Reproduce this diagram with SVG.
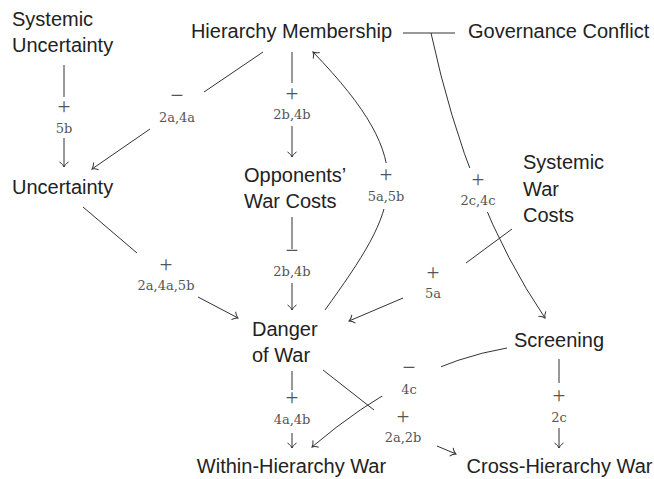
<svg xmlns="http://www.w3.org/2000/svg" width="654" height="479" viewBox="0 0 654 479">
<style>
.n{font-family:"Liberation Sans",Arial,sans-serif;font-size:20px;fill:#222}
.l{font-family:"DejaVu Serif","Liberation Serif",serif;font-size:13px;fill:#555;text-anchor:middle}
.s{font-family:"Liberation Serif","DejaVu Serif",serif;font-size:23px;fill:#555;text-anchor:middle}
.e{fill:none;stroke:#333;stroke-width:1}
.a{marker-end:url(#arr)}
.bg{fill:#fff;stroke:none}
</style>
<defs>
<marker id="arr" markerUnits="userSpaceOnUse" viewBox="-10 -6 12 12" markerWidth="12" markerHeight="12" refX="0" refY="0" orient="auto">
<path d="M-5,-4.5 C-3.5,-2 -1.2,-0.5 0,0 C-1.2,0.5 -3.5,2 -5,4.5" fill="none" stroke="#333" stroke-width="1"/>
</marker>
</defs>
<g id="connectors">
<path class="e" d="M64,65 V97"/><path class="e a" d="M64,138 V167"/>
<path class="e" d="M263,52 L204,92"/><path class="e a" d="M150,129 L92,169"/>
<path class="e" d="M292,52 V83"/><path class="e a" d="M292,126 V157"/>
<path class="e" d="M292,217 V249"/><path class="e a" d="M292,283 V310"/>
<path class="e" d="M83,207 L137,253"/><path class="e a" d="M198,297 L238,318"/>
<path class="e" d="M512,229 L466,263"/><path class="e a" d="M403,298 L349,321"/>
<path class="e" d="M292,371 V390"/><path class="e a" d="M292,433 V448"/>
<path class="e" d="M323,370 L374,410"/><path class="e a" d="M437,446 L456,454"/>
<path class="e" d="M559,359 V383"/><path class="e a" d="M559,428 V448"/>
<path class="e" d="M403,33 H455"/>
<path class="e a" d="M431,33 Q468,204.5 545,318"/>
<path class="e a" d="M325,310 C399,207 423,166 313,52"/>
<path class="e a" d="M507,348 Q408.5,364.5 312,447"/>
<rect class="bg" x="462" y="168" width="34" height="44"/>
<rect class="bg" x="370" y="163" width="32" height="46"/>
<rect class="bg" x="381" y="358" width="60" height="38"/>
</g>
<g id="labels">
<text class="s" x="64" y="114">+</text><text class="l" x="64" y="133">5b</text>
<text class="s" x="177" y="103">−</text><text class="l" x="177" y="122">2a,4a</text>
<text class="s" x="292" y="101">+</text><text class="l" x="292" y="119">2b,4b</text>
<text class="s" x="292" y="258">−</text><text class="l" x="292" y="276">2b,4b</text>
<text class="s" x="166" y="272">+</text><text class="l" x="166" y="290">2a,4a,5b</text>
<text class="s" x="386" y="182">+</text><text class="l" x="386" y="201">5a,5b</text>
<text class="s" x="478" y="187">+</text><text class="l" x="478" y="205">2c,4c</text>
<text class="s" x="433" y="280">+</text><text class="l" x="433" y="298">5a</text>
<text class="s" x="292" y="405">+</text><text class="l" x="292" y="424">4a,4b</text>
<text class="s" x="403" y="424">+</text><text class="l" x="403" y="442">2a,2b</text>
<text class="s" x="409" y="375">−</text><text class="l" x="409" y="394">4c</text>
<text class="s" x="559" y="403">+</text><text class="l" x="559" y="422">2c</text>
</g>
<g id="systemic-uncertainty"><text class="n" x="12" y="26">Systemic</text><text class="n" x="12" y="52">Uncertainty</text></g>
<g id="hierarchy-membership"><text class="n" x="291.5" y="38" text-anchor="middle">Hierarchy Membership</text></g>
<g id="governance-conflict"><text class="n" x="468" y="38">Governance Conflict</text></g>
<g id="uncertainty"><text class="n" x="12" y="194">Uncertainty</text></g>
<g id="opponents-war-costs"><text class="n" x="244" y="182">Opponents’</text><text class="n" x="244" y="208">War Costs</text></g>
<g id="systemic-war-costs"><text class="n" x="523" y="169">Systemic</text><text class="n" x="523" y="196">War</text><text class="n" x="523" y="222">Costs</text></g>
<g id="danger-of-war"><text class="n" x="252" y="336">Danger</text><text class="n" x="252" y="362">of War</text></g>
<g id="screening"><text class="n" x="559" y="347" text-anchor="middle">Screening</text></g>
<g id="within-hierarchy-war"><text class="n" x="291.5" y="473" text-anchor="middle">Within-Hierarchy War</text></g>
<g id="cross-hierarchy-war"><text class="n" x="559.5" y="473" text-anchor="middle">Cross-Hierarchy War</text></g>
</svg>
